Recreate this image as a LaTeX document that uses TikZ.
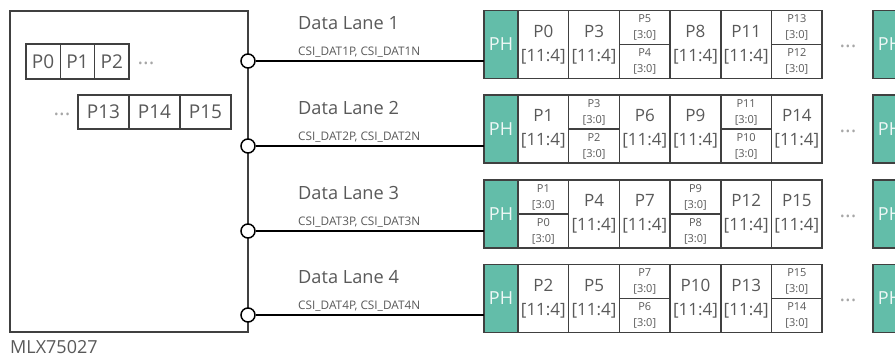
\documentclass[tikz,border=0pt]{standalone}
\usepackage{fontspec}
\setmainfont{Open Sans}
\definecolor{linec}{HTML}{404040}
\definecolor{txt}{HTML}{595959}
\definecolor{phfill}{HTML}{63BDA9}
\definecolor{dotc}{HTML}{A6A6A6}
\newcommand\BC[3]{\node[bigcell] (#1) at (#2) {#3\\{[11:4]}};}
\newcommand\SC[4]{\node[halfcell] (#1t) at (#2) {#3\\{[3:0]}};
  \node[halfcell] (#1b) at (#1t.south west) {#4\\{[3:0]}};}
\begin{document}
\begin{tikzpicture}[x=1pt,y=-1pt,
  box/.style={draw=linec, line width=1.5pt, outer sep=0pt, inner sep=0pt, anchor=north west},
  bigcell/.style={box, minimum width=50.7pt, minimum height=68pt, align=center, text=txt, font=\fontsize{17}{24}\selectfont},
  halfcell/.style={box, minimum width=50.7pt, minimum height=34pt, align=center, text=txt, font=\fontsize{11}{16}\selectfont},
  phcell/.style={box, fill=phfill, minimum width=34pt, minimum height=68pt, text=white!90!phfill, font=\fontsize{18}{22}\selectfont},
  pcell/.style={box, minimum height=35pt, text=txt, font=\fontsize{19}{22}\selectfont},
  port/.style={circle, draw=black, fill=white, line width=1.5pt, minimum size=14pt, inner sep=0pt},
  wire/.style={draw=black, line width=1.6pt},
  lane/.style={anchor=base west, text=txt, font=\fontsize{18.2}{22}\selectfont, inner sep=0pt},
  sig/.style={anchor=base west, text=txt, font=\fontsize{11.8}{14}\selectfont, inner sep=0pt},
  dots/.style={text=dotc, font=\fontsize{21}{22}\selectfont, inner sep=0pt}]
\clip (0,0) rectangle (895,358);
% chip
\node[box, minimum width=238pt, minimum height=321pt] (chip) at (10,11) {};
\node[anchor=base west, text=txt, font=\fontsize{18}{22}\selectfont, inner sep=0pt] (chipname) at (10,353) {MLX75027};
\node[pcell, minimum width=34.3pt] (a0) at (26,44) {P0};
\node[pcell, minimum width=34.3pt] (a1) at (a0.north east) {P1};
\node[pcell, minimum width=34.3pt] (a2) at (a1.north east) {P2};
\node[dots] (adots) at (146,63) {...};
\node[pcell, minimum width=51pt, minimum height=34pt] (b13) at (78,95) {P13};
\node[pcell, minimum width=51pt, minimum height=34pt] (b14) at (b13.north east) {P14};
\node[pcell, minimum width=51pt, minimum height=34pt] (b15) at (b14.north east) {P15};
\node[dots] (bdots) at (62,114) {...};
% lanes
\foreach \i/\t/\w in {1/10.5/61, 2/95/146, 3/180/231, 4/264.5/315}{
  \node[phcell] (ph\i) at (484,\t) {PH};
  \node[phcell] (phn\i) at (873,\t) {PH};
  \node[port] (c\i) at (chip.east |- 0,\w) {};
  \draw[wire] (c\i.east) -- (c\i.east -| ph\i.west);
  \node[lane] (dl\i) at (298,\t+19.5) {Data Lane \i};
  \node[sig] (sg\i) at (298,\t+45.2) {CSI\_DAT\i P, CSI\_DAT\i N};
  \node[dots] (rd\i) at (848,\t+36) {...};
}
% row 1
\BC{r1a}{518,10.5}{P0}
\BC{r1b}{568.7,10.5}{P3}
\SC{r1c}{619.4,10.5}{P5}{P4}
\BC{r1d}{670.1,10.5}{P8}
\BC{r1e}{720.8,10.5}{P11}
\SC{r1f}{771.5,10.5}{P13}{P12}
% row 2
\BC{r2a}{518,95}{P1}
\SC{r2b}{568.7,95}{P3}{P2}
\BC{r2c}{619.4,95}{P6}
\BC{r2d}{670.1,95}{P9}
\SC{r2e}{720.8,95}{P11}{P10}
\BC{r2f}{771.5,95}{P14}
% row 3
\SC{r3a}{518,180}{P1}{P0}
\BC{r3b}{568.7,180}{P4}
\BC{r3c}{619.4,180}{P7}
\SC{r3d}{670.1,180}{P9}{P8}
\BC{r3e}{720.8,180}{P12}
\BC{r3f}{771.5,180}{P15}
% row 4
\BC{r4a}{518,264.5}{P2}
\BC{r4b}{568.7,264.5}{P5}
\SC{r4c}{619.4,264.5}{P7}{P6}
\BC{r4d}{670.1,264.5}{P10}
\BC{r4e}{720.8,264.5}{P13}
\SC{r4f}{771.5,264.5}{P15}{P14}
\end{tikzpicture}
\end{document}
